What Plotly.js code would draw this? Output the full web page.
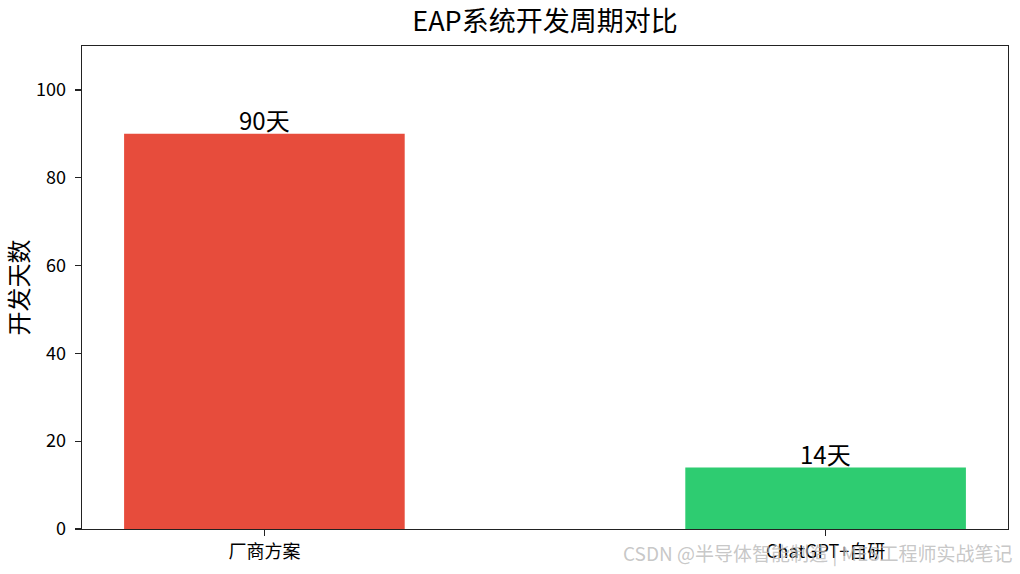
<!DOCTYPE html>
<html>
<head>
<meta charset="utf-8">
<script src="https://cdn.plot.ly/plotly-3.0.1.min.js"></script>
<style>
  html, body { margin: 0; padding: 0; background: #fff; }
  #plot { width: 1020px; height: 574px; }
</style>
</head>
<body>
<div id="plot"></div>
<script>
const categories = ['厂商方案', 'ChatGPT+自研'];
const days = [90, 14];
const barColors = ['#e74c3c', '#2ecc71'];
const yTicks = [0, 20, 40, 60, 80, 100];

const cjk = '"Noto Sans CJK SC", "DejaVu Sans", sans-serif';

const trace = {
  x: categories,
  y: days,
  type: 'bar',
  width: 0.5,
  marker: { color: barColors },
  hoverinfo: 'none',
};

// value labels sit right on top of each bar
const barLabels = categories.map((c, i) => ({
  x: c,
  y: days[i],
  text: days[i] + '天',
  xref: 'x', yref: 'y',
  xanchor: 'center', yanchor: 'bottom',
  yshift: -5,
  showarrow: false,
  font: { family: cjk, size: 24, color: '#000' },
}));

const axisLine = {
  showline: true,
  mirror: true,
  linecolor: '#222',
  linewidth: 1.3,
  ticks: 'outside',
  ticklen: 6,
  tickwidth: 1.3,
  tickcolor: '#222',
  showgrid: false,
  zeroline: false,
  tickfont: { family: cjk, size: 18, color: '#000' },
};

const layout = {
  width: 1020,
  height: 574,
  margin: { l: 82, r: 12, t: 46, b: 45 },
  paper_bgcolor: '#fff',
  plot_bgcolor: '#fff',
  showlegend: false,
  title: {
    text: 'EAP系统开发周期对比',
    font: { family: cjk, size: 27, color: '#000' },
    xref: 'paper',
    x: 0.5,
    xanchor: 'center',
    y: 0.962,
    yanchor: 'middle',
  },
  xaxis: Object.assign({}, axisLine, {
    type: 'category',
    range: [-0.325, 1.325],
  }),
  yaxis: Object.assign({}, axisLine, {
    range: [0, 110],
    tickvals: yTicks,
    ticklabelstandoff: 5,
    title: {
      text: '开发天数',
      font: { family: cjk, size: 24, color: '#000' },
      standoff: 10,
    },
  }),
  annotations: barLabels.concat([{
    text: 'CSDN @半导体智能制造 | MES工程师实战笔记',
    xref: 'paper', yref: 'paper',
    x: 1.008, y: -0.05,
    xanchor: 'right', yanchor: 'middle',
    showarrow: false,
    font: { family: cjk, size: 19, color: 'rgba(185,185,185,0.8)' },
  }]),
};

Plotly.newPlot('plot', [trace], layout, { displayModeBar: false, staticPlot: true });
</script>
</body>
</html>
